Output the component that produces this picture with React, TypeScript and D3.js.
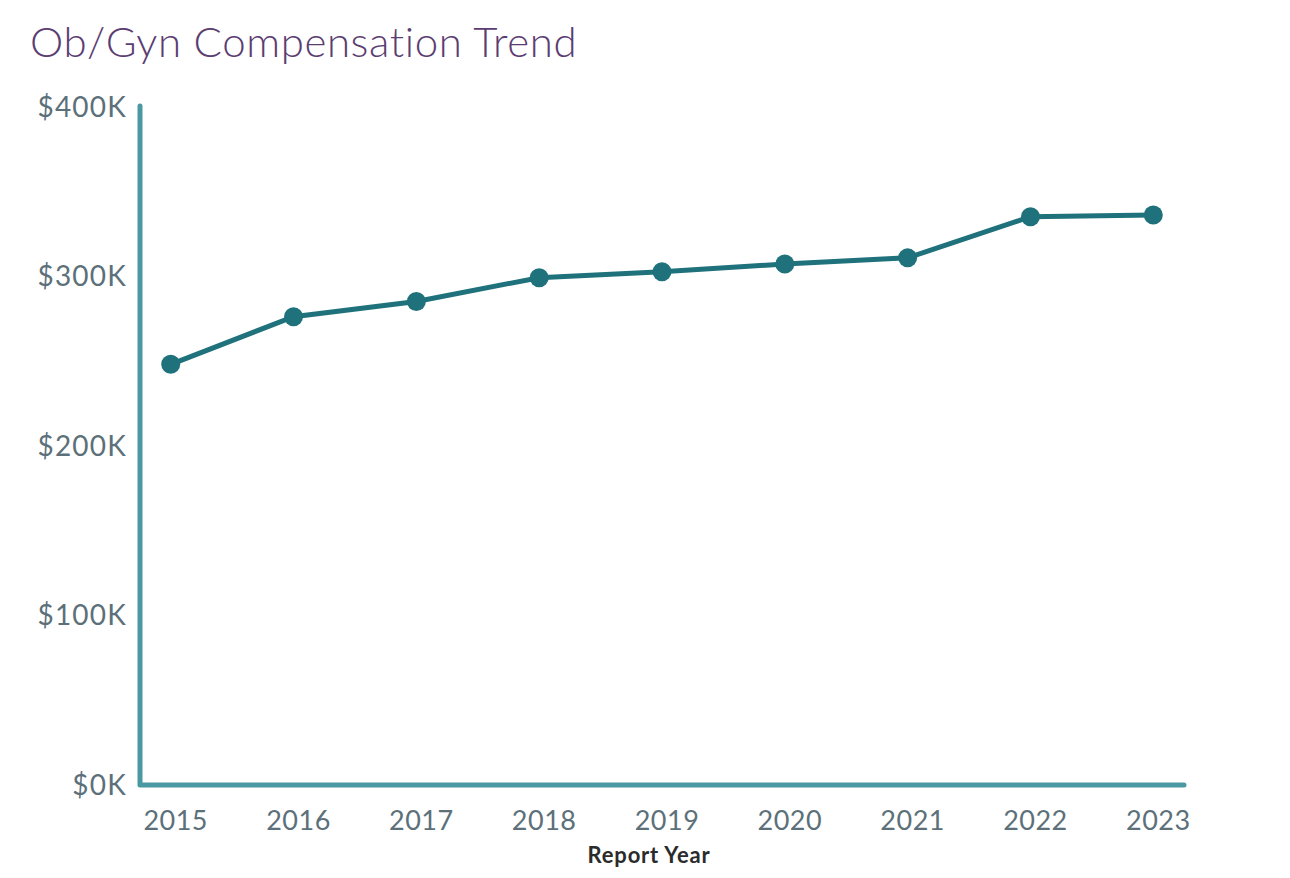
import * as d3 from 'd3';
import React, { useEffect, useRef } from 'react';

// values, in $K
const years = ['2015', '2016', '2017', '2018', '2019', '2020', '2021', '2022', '2023'];
const compensation = [248.2, 276.3, 285.3, 299.3, 302.8, 307.4, 311, 335.3, 336.3];
const yTicks = [0, 100, 200, 300, 400];

export default () => {
    const ref = useRef<any>();

    function draw(): void {
        const width = 1290;
        const height = 870;
        const svg = d3.select<any, any>(ref.current)
            .attr('width', width)
            .attr('height', height);
        svg.selectAll('*').remove();

        const data = years.map((y, i) => ({ year: y, value: compensation[i] }));

        const x = d3.scalePoint<string>()
            .domain(years)
            .range([132, 1176])
            .padding(0.25);
        const y = d3.scaleLinear()
            .domain([0, 400])
            .range([777, 99]);

        // title
        svg.append('text')
            .attr('x', 22)
            .attr('y', 49)
            .attr('fill', '#5b3d72')
            .style('font-family', 'Lato, sans-serif')
            .style('font-weight', 300)
            .style('font-size', '42px')
            .style('letter-spacing', '0.6px')
            .text('Ob/Gyn Compensation Trend');

        // axis lines
        svg.append('path')
            .attr('d', `M${132},${y(400) - 1}V${y(0)}H${1176}`)
            .attr('fill', 'none')
            .attr('stroke', '#4a98a1')
            .attr('stroke-width', 5)
            .attr('stroke-linecap', 'round')
            .attr('stroke-linejoin', 'round');

        // y tick labels
        svg.append('g')
            .selectAll('text')
            .data(yTicks)
            .join('text')
            .attr('x', 119)
            .attr('y', d => y(d))
            .attr('dy', '0.35em')
            .attr('text-anchor', 'end')
            .attr('fill', '#5c707a')
            .style('font-family', 'Lato, sans-serif')
            .style('font-size', '28px')
            .style('letter-spacing', '1.2px')
            .text(d => `$${d}K`);

        // x tick labels
        svg.append('g')
            .selectAll('text')
            .data(years)
            .join('text')
            .attr('x', d => (x(d) as number) + 5)
            .attr('y', 822)
            .attr('text-anchor', 'middle')
            .attr('fill', '#5c707a')
            .style('font-family', 'Lato, sans-serif')
            .style('font-size', '27px')
            .style('letter-spacing', '0.5px')
            .text(d => d);

        svg.append('text')
            .attr('x', 641)
            .attr('y', 855)
            .attr('text-anchor', 'middle')
            .attr('fill', '#2b2b2b')
            .style('font-family', 'Lato, sans-serif')
            .style('font-weight', 700)
            .style('font-size', '22px')
            .style('letter-spacing', '0.8px')
            .text('Report Year');

        const line = d3.line<any>()
            .x(d => x(d.year) as number)
            .y(d => y(d.value));

        svg.append('path')
            .datum(data)
            .attr('fill', 'none')
            .attr('stroke', '#1f717b')
            .attr('stroke-width', 5)
            .attr('d', line);

        svg.append('g')
            .selectAll('circle')
            .data(data)
            .join('circle')
            .attr('cx', d => x(d.year) as number)
            .attr('cy', d => y(d.value))
            .attr('r', 9.5)
            .attr('fill', '#1f717b');
    }

    useEffect(() => {
        draw();
    });

    return (
        <svg ref={ref} style={{ display: 'block' }}></svg>
    );
};
